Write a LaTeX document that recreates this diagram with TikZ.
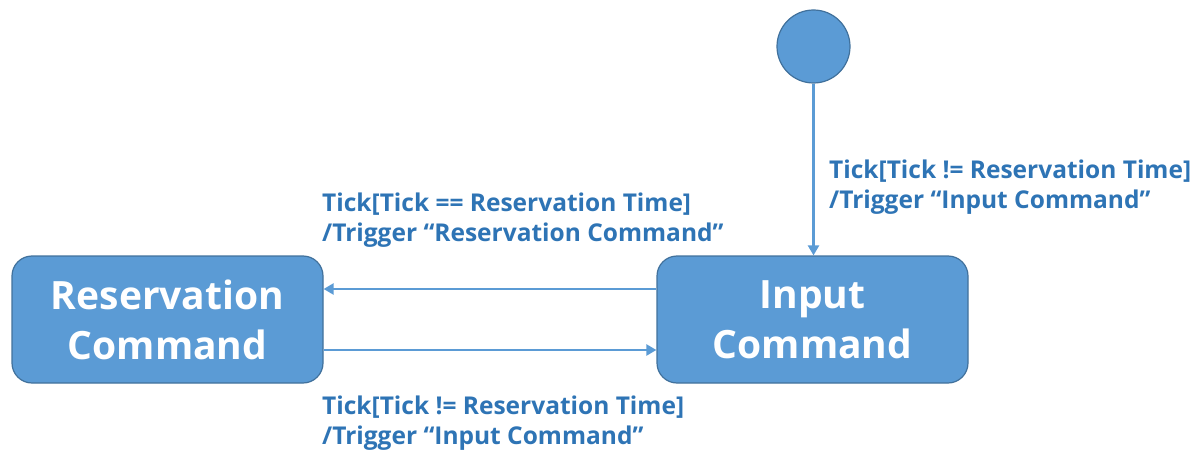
\documentclass[tikz,border=0pt]{standalone}
\usepackage{fontspec}
\setmainfont{Open Sans}
\usetikzlibrary{arrows.meta}
\definecolor{boxfill}{HTML}{5B9BD5}
\definecolor{boxline}{HTML}{41719C}
\definecolor{lbl}{HTML}{2E74B5}
\tikzset{
  state/.style={draw=boxline, line width=1.2pt, fill=boxfill, rounded corners=20pt,
    minimum width=311pt, minimum height=127pt, inner sep=0pt, text=white,
    font=\fontsize{39}{50}\selectfont\bfseries, align=center},
  initstate/.style={circle, draw=boxline, line width=1.2pt, fill=boxfill, minimum size=73pt, inner sep=0pt},
  trans/.style={draw=boxfill, line width=2.3pt, -{Triangle[length=10pt,width=11pt]}},
  tlabel/.style={text=lbl, font=\fontsize{24.5}{29.5}\selectfont\bfseries, align=left, inner sep=0pt, anchor=west}
}
\begin{document}
\begin{tikzpicture}[x=1pt,y=-1pt]
\useasboundingbox (0,0) rectangle (1195,452);
\node[state] (res) at (167.5,319.5) {Reservation\\Command};
\node[state] (inp) at (812.5,319.5) {Input\\Command};
\node[initstate] (init) at (813.5,46.5) {};
\coordinate (resA) at (res.east |- 0,289);
\coordinate (inpA) at (inp.west |- 0,289);
\coordinate (resB) at (res.east |- 0,350);
\coordinate (inpB) at (inp.west |- 0,350);
\draw[trans] (init.south) -- (inp.north -| init.south);
\draw[trans] (inpA) -- (resA);
\draw[trans] (resB) -- (inpB);
\node[tlabel] (l1) at (322,220) {Tick[Tick == Reservation Time]\\/Trigger “Reservation Command”};
\node[tlabel] (l2) at (322,423) {Tick[Tick != Reservation Time]\\/Trigger “Input Command”};
\node[tlabel] (l3) at (829,187) {Tick[Tick != Reservation Time]\\/Trigger “Input Command”};
\end{tikzpicture}
\end{document}
